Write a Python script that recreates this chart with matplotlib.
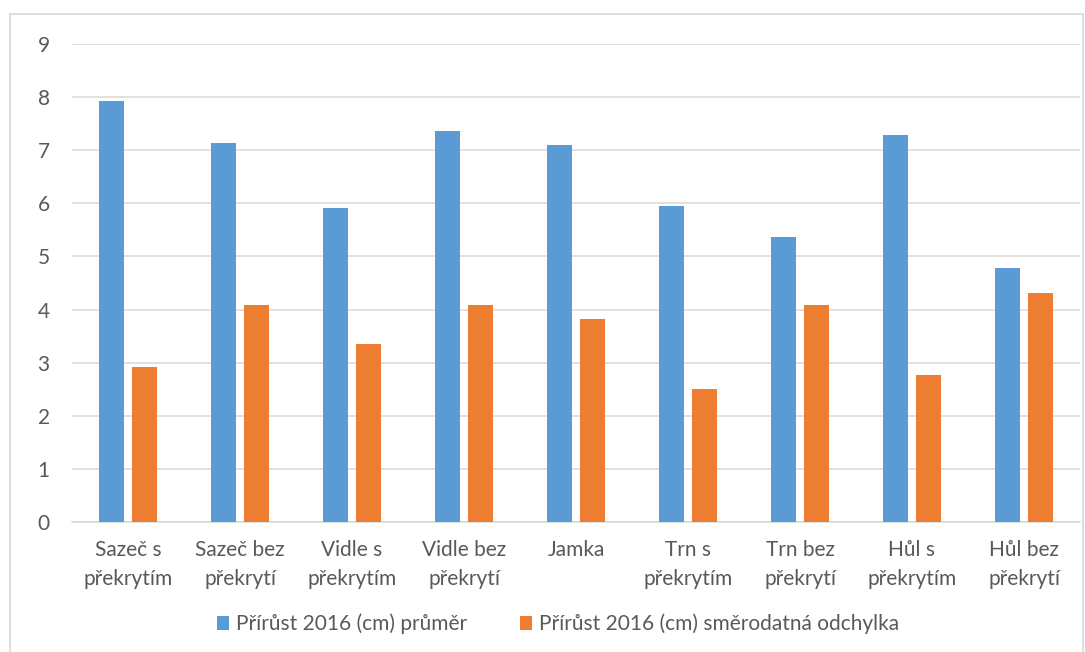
import numpy as np
import matplotlib
matplotlib.use("Agg")
import matplotlib.pyplot as plt
from matplotlib.patches import Rectangle

categories = ["Sazeč s\npřekrytím", "Sazeč bez\npřekrytí", "Vidle s\npřekrytím",
              "Vidle bez\npřekrytí", "Jamka", "Trn s\npřekrytím", "Trn bez\npřekrytí",
              "Hůl s\npřekrytím", "Hůl bez\npřekrytí"]
mean_growth = [7.92, 7.14, 5.91, 7.36, 7.10, 5.95, 5.37, 7.28, 4.78]
std_growth = [2.92, 4.09, 3.35, 4.09, 3.82, 2.50, 4.09, 2.77, 4.31]
series_names = ["Přírůst 2016 (cm) průměr", "Přírůst 2016 (cm) směrodatná odchylka"]
yticks = list(range(0, 10))

plt.rcParams['font.family'] = ['Lato', 'DejaVu Sans']
text_color = "#595959"
blue = "#5b9bd5"
orange = "#ed7d31"

fig = plt.figure(figsize=(10.85, 6.52), dpi=100)
fig.patch.set_facecolor("white")
# chart border
fig.add_artist(Rectangle((10/1085, -0.01), 1073/1085, 1 - 14/652 + 0.01,
                         transform=fig.transFigure, fill=False,
                         edgecolor="#d9d9d9", linewidth=1.2))

ax = fig.add_axes([72/1085, 1 - 522/652, (1080 - 72)/1085, (522 - 44)/652])
x = np.arange(len(categories))
w = 0.225
off = 0.145
ax.bar(x - off, mean_growth, w, color=blue, label=series_names[0], zorder=3)
ax.bar(x + off, std_growth, w, color=orange, label=series_names[1], zorder=3)

ax.set_xlim(-0.5, len(categories) - 0.5)
ax.set_ylim(0, 9)
ax.set_yticks(yticks)
ax.yaxis.grid(True, color="#d9d9d9", linewidth=1.1, zorder=0)
ax.set_axisbelow(True)
for s in ["top", "right", "left"]:
    ax.spines[s].set_visible(False)
ax.spines["bottom"].set_color("#d9d9d9")
ax.spines["bottom"].set_linewidth(1.1)
ax.tick_params(axis="both", length=0, colors=text_color, labelsize=15)
ax.tick_params(axis="y", pad=16)
ax.tick_params(axis="x", pad=13)
ax.set_xticks(x)
ax.set_xticklabels(categories, linespacing=1.55)

leg = fig.legend(loc="center", bbox_to_anchor=(558/1085, 1 - 624/652), ncol=2,
                 frameon=False, fontsize=15, handlelength=0.6, handleheight=0.6,
                 handletextpad=0.35, columnspacing=2.5)
for t in leg.get_texts():
    t.set_color(text_color)

fig.savefig("out.png", dpi=100, facecolor="white")
